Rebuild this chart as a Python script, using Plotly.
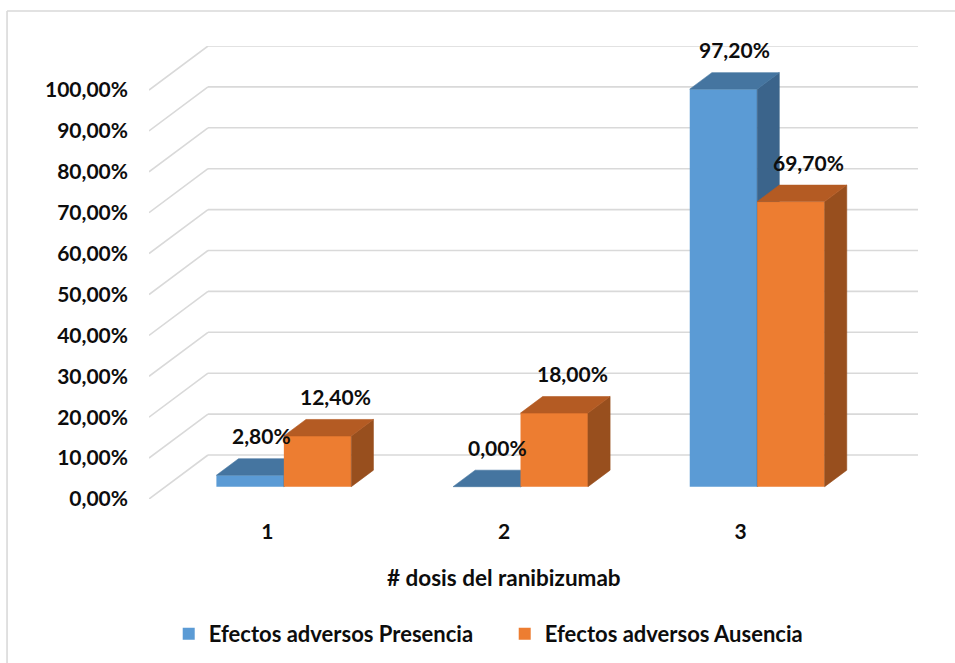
import plotly.graph_objects as go

# ---- data -------------------------------------------------------------
categories = ["1", "2", "3"]
presencia = [2.8, 0.0, 97.2]
ausencia = [12.4, 18.0, 69.7]
series_names = ["Efectos adversos Presencia", "Efectos adversos Ausencia"]
y_ticks = [0, 10, 20, 30, 40, 50, 60, 70, 80, 90, 100]
y_tick_labels = ["0,00%", "10,00%", "20,00%", "30,00%", "40,00%", "50,00%",
                 "60,00%", "70,00%", "80,00%", "90,00%", "100,00%"]
x_title = "# dosis del ranibizumab"

# ---- styling / oblique projection ----------------------------------------
FONT = "Lato"
TXT = "#0d0d0d"
GRID = "#d9d9d9"
FRONT = ["#5b9bd5", "#ed7d31"]
TOP = ["#4575a0", "#b45b23"]
SIDE = ["#3b648b", "#984f1e"]

WALL_DX, WALL_DY = 0.2493, 10.76      # offset of the back wall (axis units)
BAR_FRONT, BAR_BACK = 0.28, 0.655     # depth of bar front/back (fraction of wall depth)
BAR_W = 0.285                          # width of one bar (category units)

fx, fy = BAR_FRONT * WALL_DX, BAR_FRONT * WALL_DY
ddx = (BAR_BACK - BAR_FRONT) * WALL_DX
ddy = (BAR_BACK - BAR_FRONT) * WALL_DY

xs = [i + 1 for i in range(len(categories))]
X_RANGE = [0.5, len(categories) + 0.5 + WALL_DX]
Y_RANGE = [0, 100 + WALL_DY]


def pct(v):
    return f"{v:.2f}".replace(".", ",") + "%"


def faces(values, left_side):
    """Top and right-side polygons of each box (None-separated)."""
    tx, ty, sx, sy = [], [], [], []
    for c, v in zip(xs, values):
        x0 = c + fx - BAR_W if left_side else c + fx
        x1 = x0 + BAR_W
        b, t = fy, fy + v
        tx += [x0, x1, x1 + ddx, x0 + ddx, x0, None]
        ty += [t, t, t + ddy, t + ddy, t, None]
        sx += [x1, x1, x1 + ddx, x1 + ddx, x1, None]
        sy += [b, t, t + ddy, b + ddy, b, None]
    return (tx, ty), (sx, sy)


fig = go.Figure()

for k, (vals, name) in enumerate(zip([presencia, ausencia], series_names)):
    xa, ya = ("x", "y") if k == 0 else ("x2", "y2")
    fig.add_trace(go.Bar(
        x=[c + fx for c in xs], y=vals, base=fy,
        offset=-BAR_W if k == 0 else 0, width=BAR_W,
        marker=dict(color=FRONT[k], line=dict(width=0)),
        name=name, xaxis=xa, yaxis=ya, hoverinfo="skip",
    ))
    (tx, ty), (sx, sy) = faces(vals, k == 0)
    for px_, py_, col in [(sx, sy, SIDE[k]), (tx, ty, TOP[k])]:
        fig.add_trace(go.Scatter(
            x=px_, y=py_, fill="toself", fillcolor=col, mode="lines",
            line=dict(color=col, width=0.6), showlegend=False,
            hoverinfo="skip", xaxis=xa, yaxis=ya,
        ))

# back wall gridlines and the receding lines on the side wall
shapes = []
for v in y_ticks:
    shapes.append(dict(type="line", xref="x", yref="y", layer="below",
                       x0=X_RANGE[0] + WALL_DX, x1=X_RANGE[1], y0=v + WALL_DY, y1=v + WALL_DY,
                       line=dict(color=GRID, width=1.6)))
    shapes.append(dict(type="line", xref="x", yref="y", layer="below",
                       x0=X_RANGE[0], x1=X_RANGE[0] + WALL_DX, y0=v, y1=v + WALL_DY,
                       line=dict(color=GRID, width=1.6)))
# chart frame
shapes.append(dict(type="line", xref="paper", yref="paper", x0=-0.1846, x1=1.2,
                   y0=1.0773, y1=1.0773, line=dict(color=GRID, width=1.6)))
shapes.append(dict(type="line", xref="paper", yref="paper", x0=-0.1846, x1=-0.1846,
                   y0=1.0773, y1=-0.5, line=dict(color=GRID, width=1.6)))

label_font = dict(family=FONT, size=21, color=TXT, weight="bold")
title_font = dict(family=FONT, size=22.5, color=TXT, weight="bold")
legend_font = dict(family=FONT, size=22, color=TXT, weight="bold")

# value labels above each box
annotations = []
for k, vals in enumerate([presencia, ausencia]):
    for c, v in zip(xs, vals):
        xc = c + fx + (-BAR_W / 2 if k == 0 else BAR_W / 2) + ddx / 2
        annotations.append(dict(
            x=xc, y=fy + v + ddy, xref="x", yref="y", text=pct(v),
            showarrow=False, yshift=23, xshift=0 if k == 0 else 7,
            font=label_font,
        ))
annotations.append(dict(
    x=2, y=-0.174, xref="x", yref="paper", text=x_title, showarrow=False,
    yanchor="middle", font=title_font,
))

fig.update_layout(
    width=955, height=663,
    margin=dict(l=149, r=37, t=46, b=164, autoexpand=False),
    paper_bgcolor="white", plot_bgcolor="white",
    barmode="overlay",
    shapes=shapes, annotations=annotations,
    xaxis=dict(range=X_RANGE, tickvals=xs, ticktext=categories, showgrid=False,
               zeroline=False, showline=False, ticks="", tickfont=label_font,
               ticklabelstandoff=18, fixedrange=True, automargin=False),
    yaxis=dict(range=Y_RANGE, tickvals=y_ticks, ticktext=y_tick_labels, showgrid=False,
               zeroline=False, showline=False, ticks="", tickfont=label_font,
               ticklabelstandoff=20, fixedrange=True, automargin=False),
    xaxis2=dict(range=X_RANGE, overlaying="x", visible=False, fixedrange=True),
    yaxis2=dict(range=Y_RANGE, overlaying="y", visible=False, fixedrange=True),
    legend=dict(orientation="h", xref="container", yref="container",
                x=0.5285, xanchor="center", y=0.044, yanchor="middle",
                entrywidth=291, entrywidthmode="pixels",
                font=legend_font, bgcolor="rgba(0,0,0,0)"),
    showlegend=True,
)

fig.write_html("out.html")
